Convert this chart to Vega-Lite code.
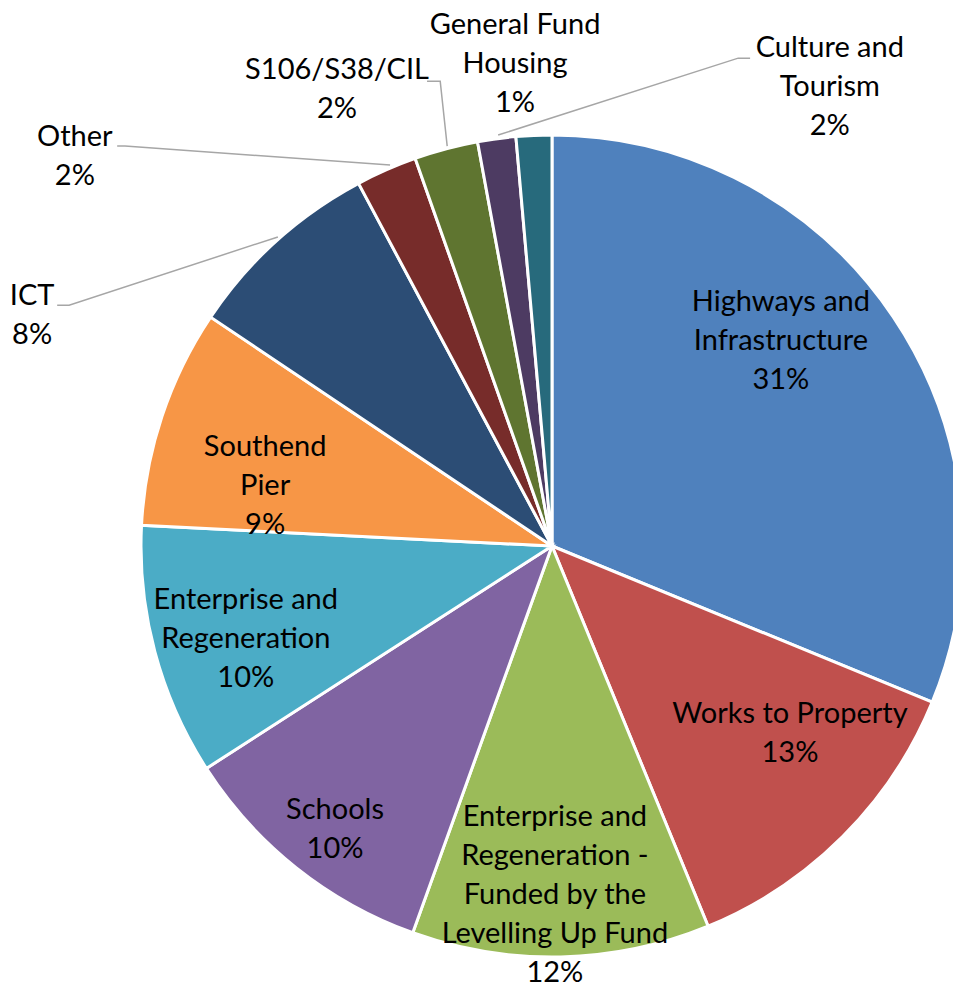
{
  "$schema": "https://vega.github.io/schema/vega-lite/v6.json",
  "width": 953,
  "height": 987,
  "autosize": {"type": "none"},
  "padding": 0,
  "background": "white",
  "config": {"view": {"stroke": null}},
  "datasets": {
    "slices": [
      {"category": "Highways and Infrastructure", "value": 31.2, "order": 1},
      {"category": "Works to Property", "value": 12.6, "order": 2},
      {"category": "Enterprise and Regeneration - Funded by the Levelling Up Fund", "value": 11.7, "order": 3},
      {"category": "Schools", "value": 10.4, "order": 4},
      {"category": "Enterprise and Regeneration", "value": 9.9, "order": 5},
      {"category": "Southend Pier", "value": 8.6, "order": 6},
      {"category": "ICT", "value": 7.8, "order": 7},
      {"category": "Other", "value": 2.4, "order": 8},
      {"category": "S106/S38/CIL", "value": 2.5, "order": 9},
      {"category": "General Fund Housing", "value": 1.5, "order": 10},
      {"category": "Culture and Tourism", "value": 1.4, "order": 11}
    ],
    "labels": [
      {"lines": ["Highways and", "Infrastructure", "31%"], "lx": 0.557, "ly": 0.594},
      {"lines": ["Works to Property", "13%"], "lx": 0.579, "ly": -0.409},
      {"lines": ["Enterprise and", "Regeneration -", "Funded by the", "Levelling Up Fund", "12%"], "lx": 0.007, "ly": -0.659},
      {"lines": ["Schools", "10%"], "lx": -0.528, "ly": -0.642},
      {"lines": ["Enterprise and", "Regeneration", "10%"], "lx": -0.745, "ly": -0.131},
      {"lines": ["Southend", "Pier", "9%"], "lx": -0.698, "ly": 0.241},
      {"lines": ["ICT", "8%"], "lx": -1.265, "ly": 0.608},
      {"lines": ["Other", "2%"], "lx": -1.161, "ly": 0.995},
      {"lines": ["S106/S38/CIL", "2%"], "lx": -0.523, "ly": 1.158},
      {"lines": ["General Fund", "Housing", "1%"], "lx": -0.090, "ly": 1.268},
      {"lines": ["Culture and", "Tourism", "2%"], "lx": 0.676, "ly": 1.212}
    ],
    "leaders": [
      {"series": "Culture", "pt": 1, "lx": 0.482, "ly": 1.187},
      {"series": "Culture", "pt": 2, "lx": 0.453, "ly": 1.187},
      {"series": "Culture", "pt": 3, "lx": -0.131, "ly": 1.0},
      {"series": "S106", "pt": 1, "lx": -0.304, "ly": 1.131},
      {"series": "S106", "pt": 2, "lx": -0.272, "ly": 1.131},
      {"series": "S106", "pt": 3, "lx": -0.255, "ly": 0.973},
      {"series": "Other", "pt": 1, "lx": -1.058, "ly": 0.973},
      {"series": "Other", "pt": 2, "lx": -1.039, "ly": 0.973},
      {"series": "Other", "pt": 3, "lx": -0.394, "ly": 0.927},
      {"series": "ICT", "pt": 1, "lx": -1.204, "ly": 0.586},
      {"series": "ICT", "pt": 2, "lx": -1.175, "ly": 0.586},
      {"series": "ICT", "pt": 3, "lx": -0.667, "ly": 0.752}
    ]
  },
  "layer": [
    {
      "data": {"name": "slices"},
      "mark": {"type": "arc", "outerRadius": 411, "stroke": "white", "strokeWidth": 3},
      "encoding": {
        "x": {"datum": 0, "type": "quantitative", "scale": {"domain": [-1.3431, 0.9757], "nice": false, "zero": false}, "axis": null},
        "y": {"datum": 0, "type": "quantitative", "scale": {"domain": [-1.0730, 1.3285], "nice": false, "zero": false}, "axis": null},
        "theta": {"field": "value", "type": "quantitative", "stack": true},
        "order": {"field": "order", "type": "quantitative"},
        "color": {
          "field": "category",
          "type": "nominal",
          "legend": null,
          "scale": {
            "domain": ["Highways and Infrastructure", "Works to Property", "Enterprise and Regeneration - Funded by the Levelling Up Fund", "Schools", "Enterprise and Regeneration", "Southend Pier", "ICT", "Other", "S106/S38/CIL", "General Fund Housing", "Culture and Tourism"],
            "range": ["#4F81BD", "#C0504D", "#9BBB59", "#8064A2", "#4BACC6", "#F79646", "#2C4D75", "#772C2A", "#5F7530", "#4D3B62", "#276A7C"]
          }
        }
      }
    },
    {
      "data": {"name": "leaders"},
      "mark": {"type": "line", "color": "#A6A6A6", "strokeWidth": 1.5},
      "encoding": {
        "x": {"field": "lx", "type": "quantitative", "axis": null},
        "y": {"field": "ly", "type": "quantitative", "axis": null},
        "detail": {"field": "series"},
        "order": {"field": "pt", "type": "quantitative"}
      }
    },
    {
      "data": {"name": "labels"},
      "mark": {"type": "text", "font": "Lato", "fontSize": 29, "lineHeight": 39, "align": "center", "baseline": "middle", "color": "black"},
      "encoding": {
        "x": {"field": "lx", "type": "quantitative", "axis": null},
        "y": {"field": "ly", "type": "quantitative", "axis": null},
        "text": {"field": "lines"}
      }
    }
  ]
}
